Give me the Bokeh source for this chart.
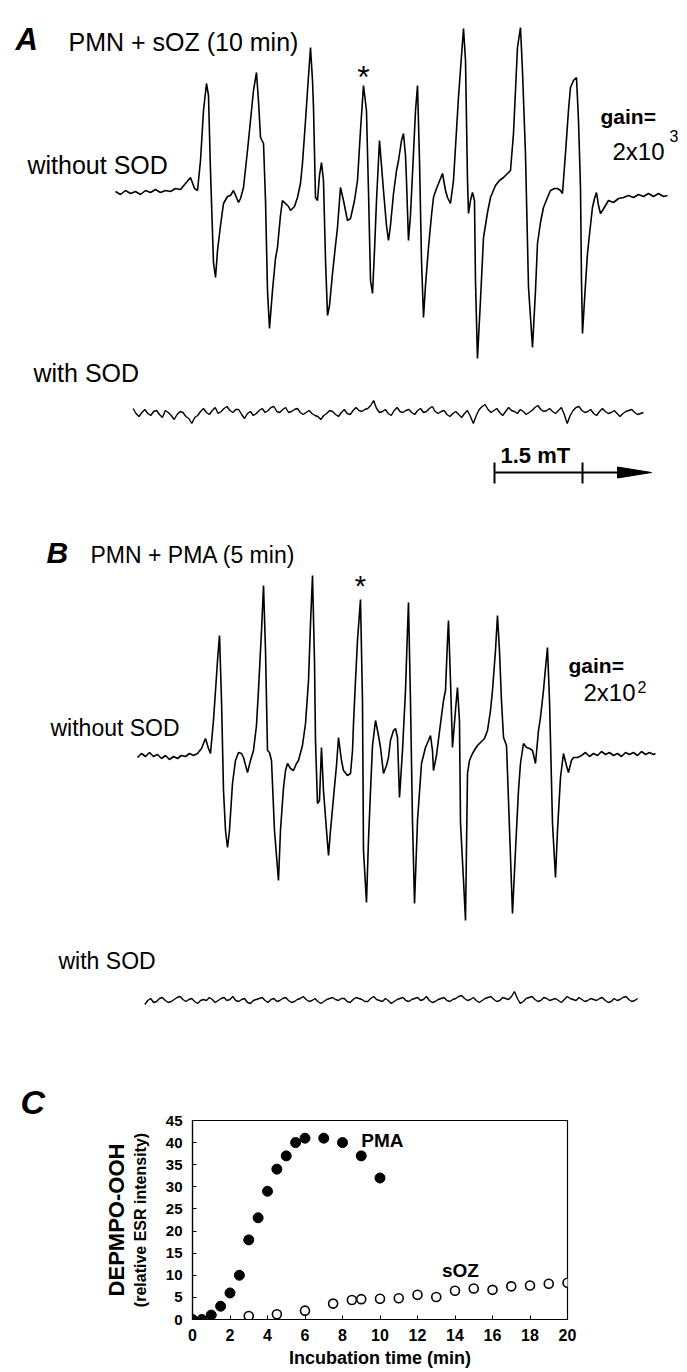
import numpy as np
from bokeh.plotting import figure
from bokeh.models import Range1d, Label, FixedTicker, LinearAxis
from bokeh.embed import file_html
from bokeh.resources import INLINE

# ---------------- Panel C data ----------------
time_pma = [0, 0.5, 1, 1.5, 2, 2.5, 3, 3.5, 4, 4.5, 5, 5.5, 6, 7, 8, 9, 10]
esr_pma = [0, 0, 1, 3, 6, 10, 18, 23, 29, 34, 37, 40, 41, 41, 40, 37, 32]
time_soz = [3, 4.5, 6, 7.5, 8.5, 9, 10, 11, 12, 13, 14, 15, 16, 17, 18, 19, 20]
esr_soz = [0.8, 1.2, 2, 3.6, 4.4, 4.6, 4.7, 4.8, 5.6, 5.1, 6.5, 7, 6.7, 7.5, 7.7, 8.1, 8.3]
x_ticks = [0, 2, 4, 6, 8, 10, 12, 14, 16, 18, 20]
y_ticks = [0, 5, 10, 15, 20, 25, 30, 35, 40, 45]

# ---------------- ESR spectra (field in mT, signal in arbitrary units) ----------------
field_A = [
    0.000, 0.085, 0.170, 0.256, 0.341, 0.426, 0.511, 0.597, 0.682, 0.767,
    0.852, 0.937, 1.023, 1.108, 1.193, 1.278, 1.347, 1.398, 1.449, 1.500,
    1.551, 1.585, 1.619, 1.670, 1.705, 1.739, 1.790, 1.841, 1.909, 1.960,
    2.011, 2.062, 2.097, 2.131, 2.182, 2.250, 2.301, 2.352, 2.403, 2.437,
    2.472, 2.523, 2.557, 2.591, 2.625, 2.676, 2.727, 2.761, 2.812, 2.846,
    2.898, 2.949, 2.983, 3.051, 3.102, 3.153, 3.187, 3.239, 3.273, 3.324,
    3.358, 3.375, 3.409, 3.443, 3.477, 3.511, 3.545, 3.580, 3.614, 3.648,
    3.699, 3.750, 3.784, 3.835, 3.886, 3.954, 4.006, 4.074, 4.125, 4.176,
    4.227, 4.278, 4.312, 4.347, 4.381, 4.415, 4.449, 4.500, 4.534, 4.568,
    4.619, 4.653, 4.687, 4.739, 4.790, 4.824, 4.875, 4.909, 4.943, 4.960,
    4.994, 5.028, 5.079, 5.114, 5.148, 5.182, 5.216, 5.250, 5.284, 5.335,
    5.386, 5.420, 5.471, 5.506, 5.574, 5.625, 5.659, 5.710, 5.761, 5.795,
    5.846, 5.898, 5.932, 5.966, 6.000, 6.017, 6.051, 6.085, 6.119, 6.136,
    6.170, 6.221, 6.273, 6.341, 6.392, 6.477, 6.545, 6.614, 6.682, 6.733,
    6.784, 6.852, 6.903, 6.937, 6.988, 7.040, 7.108, 7.159, 7.193, 7.244,
    7.295, 7.363, 7.415, 7.483, 7.534, 7.585, 7.619, 7.670, 7.721, 7.755,
    7.807, 7.858, 7.892, 7.926, 7.943, 7.960, 7.994, 8.045, 8.096, 8.130,
    8.165, 8.199, 8.233, 8.267, 8.301, 8.352, 8.403, 8.488, 8.574, 8.659,
    8.744, 8.829, 8.915, 9.000, 9.085, 9.170, 9.255, 9.341, 9.409,
]
signal_A = [
    1, -2, 2, -1, 1, -2, 2, 0, 3, 0,
    2, 1, 4, 3, 9, 15, 4, 2, 32, 82,
    109, 97, 22, -70, -85, -58, -33, -11, -4, -3,
    2, -5, -10, -6, 5, 42, 72, 102, 120, 92,
    55, 49, -8, -98, -136, -98, -66, -55, -23, -8,
    -11, -14, -18, -14, -5, 9, 29, 72, 102, 145,
    112, 85, -5, -8, 17, 30, 12, -68, -123, -113,
    -81, -53, -35, 5, -8, -28, -26, -8, 12, 62,
    107, 82, 2, -88, -101, -58, -8, 52, 27, 2,
    -33, -48, -33, -1, 22, 32, 52, 59, 37, 12,
    -48, -23, 39, 82, 107, 32, -68, -125, -93, -55,
    -23, -5, 4, 9, 19, 2, -5, -11, 12, 45,
    95, 137, 164, 132, 12, -21, -8, 0, -8, -88,
    -166, -108, -45, -20, -5, 7, 12, 15, 19, 22,
    59, 145, 165, 122, 39, -95, -155, -98, -51, -30,
    -15, -5, 2, 4, 4, 2, -1, 39, 82, 105,
    112, 115, 72, 5, -88, -141, -108, -61, -33, -15,
    -6, 0, -13, -21, -18, -13, -8, -10, -6, -5,
    -3, -5, -2, -4, -1, -4, -1, -4, -3,
]

field_A_sod = [
    0.30, 0.35, 0.40, 0.45, 0.50, 0.55, 0.60, 0.65, 0.70, 0.75,
    0.80, 0.85, 0.90, 0.95, 1.00, 1.05, 1.10, 1.15, 1.20, 1.25,
    1.30, 1.35, 1.40, 1.45, 1.50, 1.55, 1.60, 1.65, 1.70, 1.75,
    1.80, 1.85, 1.90, 1.95, 2.00, 2.05, 2.10, 2.15, 2.20, 2.25,
    2.30, 2.35, 2.40, 2.45, 2.50, 2.55, 2.60, 2.65, 2.70, 2.75,
    2.80, 2.85, 2.90, 2.95, 3.00, 3.05, 3.10, 3.15, 3.20, 3.25,
    3.30, 3.35, 3.40, 3.45, 3.50, 3.55, 3.60, 3.65, 3.70, 3.75,
    3.80, 3.85, 3.90, 3.95, 4.00, 4.05, 4.10, 4.15, 4.20, 4.25,
    4.30, 4.35, 4.40, 4.45, 4.50, 4.55, 4.60, 4.65, 4.70, 4.75,
    4.80, 4.85, 4.90, 4.95, 5.00, 5.05, 5.10, 5.15, 5.20, 5.25,
    5.30, 5.35, 5.40, 5.45, 5.50, 5.55, 5.60, 5.65, 5.70, 5.75,
    5.80, 5.85, 5.90, 5.95, 6.00, 6.05, 6.10, 6.15, 6.20, 6.25,
    6.30, 6.35, 6.40, 6.45, 6.50, 6.55, 6.60, 6.65, 6.70, 6.75,
    6.80, 6.85, 6.90, 6.95, 7.00, 7.05, 7.10, 7.15, 7.20, 7.25,
    7.30, 7.35, 7.40, 7.45, 7.50, 7.55, 7.60, 7.65, 7.70, 7.75,
    7.80, 7.85, 7.90, 7.95, 8.00, 8.05, 8.10, 8.15, 8.20, 8.25,
    8.30, 8.35, 8.40, 8.45, 8.50, 8.55, 8.60, 8.65, 8.70, 8.75,
    8.80, 8.85, 8.90, 8.95, 9.00,
]
signal_A_sod = [
    5, 0, -3, 1, 4, 0, -2, 2, 3, -1,
    -4, 3, 1, -2, -6, -1, 2, 1, -3, -5,
    -10, -4, -2, 2, 5, 1, -1, 3, 6, 0,
    2, 5, 7, 3, 1, 4, 4, -1, -5, 0,
    2, -2, 0, 3, 5, 1, 3, 6, 7, 2,
    1, 4, 6, 1, 2, 4, 5, 1, -1, 1,
    3, 0, -2, -3, -6, -2, 0, 3, 2, -1,
    -3, 1, 4, 0, -1, 3, 6, 3, 2, 4,
    5, 8, 13, 5, 1, 2, 4, 0, -2, 3,
    6, 2, 1, 3, 4, 1, -1, 3, 5, 1,
    2, 5, 7, 2, 0, 2, 3, -1, -3, 0,
    2, -1, -4, 0, 3, -3, -10, -2, 4, 7,
    9, 4, 1, 3, 5, 1, -2, 2, 6, 3,
    2, 0, 4, 2, -1, 1, 3, 6, 8, 4,
    2, 3, 5, 2, 0, 3, 6, -1, -10, -2,
    3, 6, 7, 3, 1, 2, 4, 0, -2, 2,
    5, 2, 0, 1, 3, 0, -3, 0, 2, 3,
    4, 1, -1, 0, 1,
]

field_B = [
    0.375, 0.443, 0.511, 0.580, 0.648, 0.716, 0.784, 0.852, 0.920, 0.989,
    1.057, 1.125, 1.193, 1.261, 1.330, 1.398, 1.466, 1.534, 1.585, 1.619,
    1.670, 1.705, 1.739, 1.773, 1.807, 1.841, 1.875, 1.909, 1.943, 1.994,
    2.045, 2.097, 2.148, 2.182, 2.250, 2.301, 2.352, 2.403, 2.437, 2.489,
    2.523, 2.557, 2.591, 2.625, 2.659, 2.710, 2.778, 2.812, 2.864, 2.898,
    2.932, 2.983, 3.034, 3.085, 3.119, 3.187, 3.239, 3.290, 3.324, 3.358,
    3.392, 3.409, 3.443, 3.477, 3.511, 3.545, 3.597, 3.631, 3.665, 3.716,
    3.767, 3.801, 3.852, 3.886, 3.954, 4.006, 4.040, 4.057, 4.091, 4.125,
    4.176, 4.210, 4.227, 4.278, 4.312, 4.347, 4.381, 4.432, 4.483, 4.517,
    4.568, 4.619, 4.653, 4.687, 4.739, 4.773, 4.807, 4.841, 4.892, 4.943,
    4.977, 4.994, 5.028, 5.062, 5.097, 5.148, 5.216, 5.284, 5.335, 5.369,
    5.403, 5.420, 5.471, 5.540, 5.591, 5.625, 5.659, 5.676, 5.710, 5.744,
    5.795, 5.829, 5.863, 5.881, 5.932, 5.966, 6.000, 6.034, 6.085, 6.136,
    6.170, 6.221, 6.290, 6.341, 6.392, 6.426, 6.477, 6.511, 6.545, 6.579,
    6.614, 6.665, 6.699, 6.767, 6.818, 6.869, 6.903, 6.954, 7.006, 7.057,
    7.108, 7.159, 7.210, 7.244, 7.295, 7.329, 7.363, 7.398, 7.449, 7.500,
    7.534, 7.585, 7.636, 7.687, 7.721, 7.772, 7.807, 7.875, 7.943, 8.011,
    8.079, 8.148, 8.216, 8.284, 8.352, 8.420, 8.488, 8.557, 8.625, 8.693,
    8.761, 8.829, 8.898, 8.966, 9.034, 9.102, 9.170, 9.204,
]
signal_B = [
    -2, 2, -1, 3, -1, 1, -3, 0, -4, -1,
    -3, 0, -1, 2, 0, 2, 7, 17, 7, 2,
    35, 65, 95, 120, 55, -35, -75, -92, -75, -28,
    -5, 3, 2, -2, -17, -5, 5, 30, 65, 125,
    170, 105, 5, 3, -5, -75, -125, -75, -32, -15,
    -8, -13, -15, -8, -5, 10, 32, 75, 132, 180,
    95, 15, -48, -45, 8, -35, -75, -100, -75, -42,
    -10, 18, -5, -15, -20, -18, 5, 32, 75, 115,
    156, 55, -95, -147, -85, -35, 10, 35, 20, 8,
    -18, -10, -2, 15, 25, 27, 18, -42, 5, 65,
    125, 153, 55, -65, -148, -65, -8, 8, 15, 20,
    5, -15, 0, 32, 55, 65, 115, 135, 75, 8,
    45, 68, 35, -68, -125, -165, -18, -5, 2, 7,
    10, 13, 17, 25, 45, 65, 105, 140, 105, 55,
    18, 10, -45, -158, -95, -35, -8, 12, 8, 7,
    5, -8, 25, 38, 65, 87, 108, 55, -68, -122,
    -75, -22, 2, -10, -17, -5, -2, -2, 0, 3,
    -1, 2, 0, 4, 1, 3, 0, 2, -1, 3,
    1, 3, 0, 4, 1, 3, 1, 2,
]

field_B_sod = [
    0.50, 0.55, 0.60, 0.65, 0.70, 0.75, 0.80, 0.85, 0.90, 0.95,
    1.00, 1.05, 1.10, 1.15, 1.20, 1.25, 1.30, 1.35, 1.40, 1.45,
    1.50, 1.55, 1.60, 1.65, 1.70, 1.75, 1.80, 1.85, 1.90, 1.95,
    2.00, 2.05, 2.10, 2.15, 2.20, 2.25, 2.30, 2.35, 2.40, 2.45,
    2.50, 2.55, 2.60, 2.65, 2.70, 2.75, 2.80, 2.85, 2.90, 2.95,
    3.00, 3.05, 3.10, 3.15, 3.20, 3.25, 3.30, 3.35, 3.40, 3.45,
    3.50, 3.55, 3.60, 3.65, 3.70, 3.75, 3.80, 3.85, 3.90, 3.95,
    4.00, 4.05, 4.10, 4.15, 4.20, 4.25, 4.30, 4.35, 4.40, 4.45,
    4.50, 4.55, 4.60, 4.65, 4.70, 4.75, 4.80, 4.85, 4.90, 4.95,
    5.00, 5.05, 5.10, 5.15, 5.20, 5.25, 5.30, 5.35, 5.40, 5.45,
    5.50, 5.55, 5.60, 5.65, 5.70, 5.75, 5.80, 5.85, 5.90, 5.95,
    6.00, 6.05, 6.10, 6.15, 6.20, 6.25, 6.30, 6.35, 6.40, 6.45,
    6.50, 6.55, 6.60, 6.65, 6.70, 6.75, 6.80, 6.85, 6.90, 6.95,
    7.00, 7.05, 7.10, 7.15, 7.20, 7.25, 7.30, 7.35, 7.40, 7.45,
    7.50, 7.55, 7.60, 7.65, 7.70, 7.75, 7.80, 7.85, 7.90, 7.95,
    8.00, 8.05, 8.10, 8.15, 8.20, 8.25, 8.30, 8.35, 8.40, 8.45,
    8.50, 8.55, 8.60, 8.65, 8.70, 8.75, 8.80, 8.85, 8.90,
]
signal_B_sod = [
    -4, 0, 2, -2, -1, 2, 3, 0, -2, -1, 1, 3, 4, 1, -1, 1, 2, -1, -3, 0,
    1, 0, 3, 1, -2, 0, 2, 3, 0, 1, 4, 0, -1, 1, 2, -2, -3, 0, 1, 2,
    3, 0, -2, 1, 2, -1, 0, 2, 3, 0, -2, -1, 1, 2, 4, 1, -1, 0, 2, -1,
    -3, -1, 1, 2, 3, 1, 0, 2, 2, -1, -2, 1, 3, 2, 1, -1, -1, 2, 4, 1,
    0, -1, 2, 0, -3, -1, 1, 2, 3, 0, -1, 1, 2, 3, 0, 1, 4, 0, -2, -1,
    1, 2, 3, 0, -1, 1, 2, 4, 5, 2, 0, 1, 3, 0, -2, 0, 2, 3, 4, 1,
    -1, 0, 3, 2, 1, 4, 9, 2, -3, -1, 2, 3, 4, 1, -1, 0, 3, 2, 0, 1,
    2, 0, -2, 1, 4, 2, 1, 0, 3, 1, -1, 0, 2, 1, 0, 2, 3, 0, -2, -1,
    2, 0, 1, 3, 4, 1, -1, 0, 2,
]
scale_bar_mT = 1.5

FONT = "Liberation Sans"

# ---------------- top figure: spectra A and B ----------------
PX_PER_MT = 88 / 1.5
X0 = 115.0


def fx(px):
    return (px - X0) / PX_PER_MT


TOP_H = 1076
p1 = figure(width=687, height=TOP_H, x_range=Range1d(fx(0), fx(687)),
            y_range=Range1d(-TOP_H, 0), output_backend="svg",
            toolbar_location=None, min_border=0)
p1.axis.visible = False
p1.grid.visible = False
p1.outline_line_color = None

base_A, base_A_sod, base_B, base_B_sod = -192, -413, -755, -1000

LW = 1.6
p1.line(field_A, [base_A + s for s in signal_A], line_color="black", line_width=LW)
p1.line(field_A_sod, [base_A_sod + s for s in signal_A_sod], line_color="black", line_width=1.4)
p1.line(field_B, [base_B + s for s in signal_B], line_color="black", line_width=LW)
p1.line(field_B_sod, [base_B_sod + s for s in signal_B_sod], line_color="black", line_width=1.4)


def lab(fig, x, y, text, size, style="normal", align="left", baseline="middle", angle=0.0):
    fig.add_layout(Label(x=x, y=y, text=text, text_font=FONT, text_font_size=size,
                         text_font_style=style, text_color="black", text_align=align,
                         text_baseline=baseline, angle=angle))


# Panel A texts (y = vertical centre of capitals)
lab(p1, fx(15), -39, "A", "31px", "bold italic")
lab(p1, fx(68), -41, "PMN + sOZ (10 min)", "25px")
lab(p1, fx(363), -76, "*", "32px", align="center")
lab(p1, fx(27), -164, "without SOD", "25px")
lab(p1, fx(600), -116, "gain=", "21px", "bold")
lab(p1, fx(612), -151, "2x10", "24px")
lab(p1, fx(669), -135, "3", "16px")
lab(p1, fx(33), -372, "with SOD", "25px")

# scale bar
bar_start = fx(494)
p1.segment(x0=[bar_start], y0=[-472], x1=[bar_start + scale_bar_mT + 0.62], y1=[-472],
           line_color="black", line_width=2.2)
p1.segment(x0=[bar_start, bar_start + scale_bar_mT], y0=[-462, -462],
           x1=[bar_start, bar_start + scale_bar_mT], y1=[-483, -483],
           line_color="black", line_width=2)
p1.patch(x=[fx(617), fx(651), fx(617)], y=[-466.5, -472, -477.5], fill_color="black",
         line_color="black")
lab(p1, fx(500), -455, "1.5 mT", "22px", "bold")

# Panel B texts
lab(p1, fx(46), -552, "B", "30px", "bold italic")
lab(p1, fx(90), -554, "PMN + PMA (5 min)", "23px")
lab(p1, fx(360), -585, "*", "29px", align="center")
lab(p1, fx(50), -727, "without SOD", "23px")
lab(p1, fx(568), -665, "gain=", "21px", "bold")
lab(p1, fx(583), -692, "2x10", "24px")
lab(p1, fx(637), -686, "2", "16px")
lab(p1, fx(58), -960, "with SOD", "23px")

# ---------------- Panel C ----------------
p2 = figure(width=687, height=1372 - TOP_H, x_range=Range1d(0, 20), y_range=Range1d(0, 45),
            output_backend="svg", toolbar_location=None,
            min_border_left=192, min_border_right=120, min_border_top=44, min_border_bottom=53)
p2.title.text = "C"
p2.title.text_font = FONT
p2.title.text_font_size = "34px"
p2.title.text_font_style = "bold italic"
p2.title.text_color = "black"
p2.title.align = "left"
p2.title.offset = -172
p2.title.standoff = 0
p2.grid.visible = False
p2.outline_line_color = "black"
p2.outline_line_width = 1.2
p2.outline_line_alpha = 1.0
p2.xaxis.ticker = FixedTicker(ticks=x_ticks)
p2.yaxis.ticker = FixedTicker(ticks=y_ticks)
for ax in (p2.xaxis[0], p2.yaxis[0]):
    ax.axis_line_color = "black"
    ax.axis_line_width = 1.2
    ax.major_tick_in = 4
    ax.major_tick_out = 0
    ax.minor_tick_in = 0
    ax.minor_tick_out = 0
    ax.major_label_text_font = FONT
    ax.major_label_text_font_style = "bold"
    ax.major_label_text_color = "black"
    ax.axis_label_text_font = FONT
    ax.axis_label_text_font_style = "bold"
    ax.axis_label_text_color = "black"
p2.xaxis.major_label_text_font_size = "16px"
p2.yaxis.major_label_text_font_size = "15px"
p2.xaxis.major_label_standoff = 9
p2.yaxis.major_label_standoff = 10
p2.xaxis.axis_label = "Incubation time (min)"
p2.xaxis.axis_label_text_font_size = "18px"
p2.xaxis.axis_label_standoff = 4
p2.yaxis.axis_label = "(relative ESR intensity)"
p2.yaxis.axis_label_text_font_size = "16px"
p2.yaxis.axis_label_standoff = 14

outer = LinearAxis(axis_label="DEPMPO-OOH", ticker=FixedTicker(ticks=[]))
outer.axis_line_color = None
outer.major_tick_in = 0
outer.major_tick_out = 0
outer.minor_tick_in = 0
outer.minor_tick_out = 0
outer.major_label_text_font_size = "0px"
outer.axis_label_text_font = FONT
outer.axis_label_text_font_style = "bold"
outer.axis_label_text_font_size = "22px"
outer.axis_label_text_color = "black"
outer.axis_label_standoff = 0
p2.add_layout(outer, "left")

p2.scatter(time_pma, esr_pma, size=10, marker="circle", fill_color="black", line_color="black")
p2.scatter(time_soz, esr_soz, size=9, marker="circle", fill_color="white", line_color="black",
           line_width=1.6)

lab(p2, 9.0, 40.5, "PMA", "19px", "bold")
lab(p2, 13.3, 11.1, "sOZ", "19px", "bold")

open("out.html", "w").write(file_html([p1, p2], INLINE))
